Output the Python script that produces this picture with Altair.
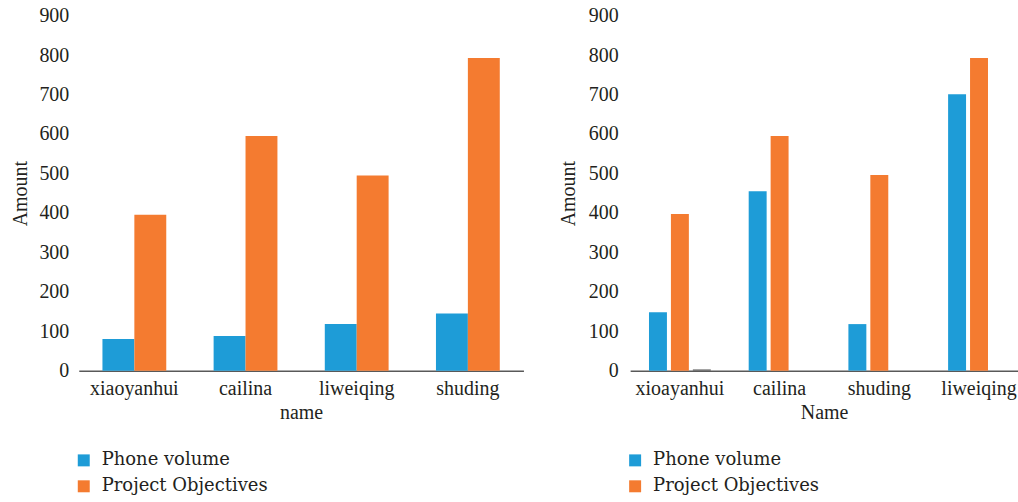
import altair as alt
import pandas as pd

# Left panel: sales staff
left_names = ["xiaoyanhui", "cailina", "liweiqing", "shuding"]
left_phone = [80, 88, 118, 145]
left_objectives = [395, 595, 495, 793]

# Right panel: same staff, second period
right_names = ["xioayanhui", "cailina", "shuding", "liweiqing"]
right_phone = [148, 455, 118, 701]
right_objectives = [397, 595, 496, 793]
right_other = [3, 0, 0, 0]

series_names = ["Phone volume", "Project Objectives", "Other"]
series_colors = ["#1E9CD7", "#F47B30", "#595959"]

FONT = "Liberation Serif"
LEGEND_FONT = "DejaVu Serif"
TEXT = "#231F20"


def frame(names, columns):
    rows = []
    for s_idx, values in enumerate(columns):
        for n, v in zip(names, values):
            rows.append({"name": n, "series": series_names[s_idx], "amount": v})
    return pd.DataFrame(rows)


def panel(df, names, n_series, width, x_title, x_scale, off_scale, y_label_pad,
          y_title_pad):
    dom = series_names[:n_series]
    return alt.Chart(df).mark_bar().encode(
        x=alt.X("name:N", sort=names, scale=x_scale,
                axis=alt.Axis(title=x_title, labelAngle=0, ticks=False,
                              labelPadding=8, titlePadding=4,
                              domainColor="#595959", domainWidth=1.5)),
        xOffset=alt.XOffset("series:N", sort=dom, scale=off_scale),
        y=alt.Y("amount:Q", scale=alt.Scale(domain=[0, 900], nice=False),
                axis=alt.Axis(title="Amount", values=list(range(0, 1000, 100)),
                              grid=False, domain=False, ticks=False,
                              labelPadding=y_label_pad, titlePadding=y_title_pad)),
        color=alt.Color("series:N",
                        scale=alt.Scale(domain=dom, range=series_colors[:n_series]),
                        legend=alt.Legend(title=None, orient="none",
                                          values=series_names[:2],
                                          legendX=-4, legendY=437,
                                          symbolType="square", symbolSize=144,
                                          symbolStrokeWidth=0,
                                          labelFont=LEGEND_FONT, labelFontSize=18,
                                          labelColor=TEXT, labelLimit=400,
                                          labelOffset=9, rowPadding=8)),
    ).properties(width=width, height=356)


left_df = frame(left_names, [left_phone, left_objectives])
right_df = frame(right_names, [right_phone, right_objectives, right_other])

left = panel(
    left_df, left_names, 2, 446, "name",
    alt.Scale(paddingInner=0.426, paddingOuter=0.213),
    alt.Scale(paddingInner=0, paddingOuter=0),
    10, 8,
)
right = panel(
    right_df, right_names, 3, 389, "Name",
    alt.Scale(paddingInner=0.38, paddingOuter=0.135, align=0.7),
    alt.Scale(paddingInner=0.1818, paddingOuter=0),
    12, 10,
)

chart = alt.hconcat(left, right, spacing=35).resolve_scale(
    color="independent", x="independent", xOffset="independent"
).properties(
    padding={"left": 11, "top": 5, "right": 0, "bottom": 0},
    background="white",
).configure_view(
    stroke=None
).configure_axis(
    labelFont=FONT, titleFont=FONT, labelFontSize=20, titleFontSize=20,
    labelColor=TEXT, titleColor=TEXT, titleFontWeight="normal",
)

chart.save("out.html", embed_options={"renderer": "svg", "actions": False})
